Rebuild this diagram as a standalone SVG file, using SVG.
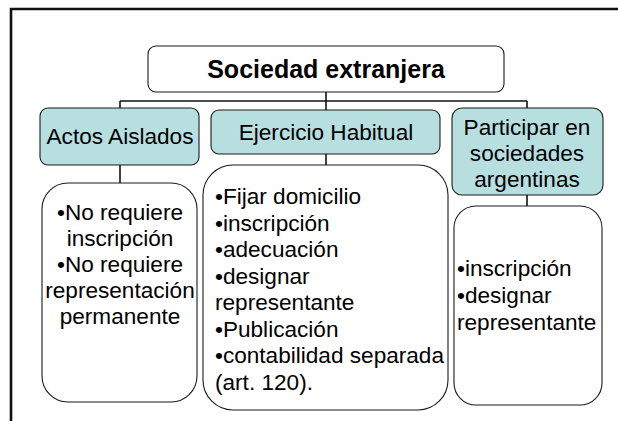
<svg xmlns="http://www.w3.org/2000/svg" width="618" height="421" viewBox="0 0 618 421">
<style>
.t{font-family:"Liberation Sans",Arial,sans-serif;font-size:22.6px;fill:#000}
.c{text-anchor:middle}
.b{font-weight:bold;font-size:25px}
.teal{fill:#b7dfe0;stroke:#1a1a1a;stroke-width:1.1}
.wht{fill:#fff;stroke:#1a1a1a;stroke-width:1.1}
.con line{stroke:#111;stroke-width:1.6}
</style>
<rect width="618" height="421" fill="#fff"/>
<g id="frame" fill="none" stroke="#111" stroke-width="2.6">
<path d="M618 9 H11 V421"/>
</g>
<g class="con" id="connectors">
<line x1="326" y1="92" x2="326" y2="110"/>
<line x1="120" y1="101" x2="527" y2="101"/>
<line x1="120" y1="101" x2="120" y2="108"/>
<line x1="527" y1="101" x2="527" y2="108"/>
<line x1="120" y1="165" x2="120" y2="183"/>
<line x1="326" y1="154" x2="326" y2="165"/>
<line x1="527" y1="195" x2="527" y2="206"/>
</g>
<g id="root">
<rect class="wht" x="148" y="46" width="356" height="46" rx="8"/>
<text class="t c b" x="326" y="78">Sociedad extranjera</text>
</g>
<g id="actos">
<rect class="teal" x="40" y="108" width="159" height="57" rx="8"/>
<text class="t c" x="120" y="144">Actos Aislados</text>
</g>
<g id="ejercicio">
<rect class="teal" x="211" y="110" width="229" height="44" rx="8"/>
<text class="t c" x="326" y="140">Ejercicio Habitual</text>
</g>
<g id="participar">
<rect class="teal" x="452" y="108" width="151" height="87" rx="10"/>
<text class="t c" x="527" y="135">Participar en</text>
<text class="t c" x="527" y="161">sociedades</text>
<text class="t c" x="527" y="187">argentinas</text>
</g>
<g id="actos-detalle">
<rect class="wht" x="42" y="183" width="155" height="219" rx="26"/>
<text class="t c" x="120" y="220">•No requiere</text>
<text class="t c" x="120" y="246">inscripción</text>
<text class="t c" x="120" y="272">•No requiere</text>
<text class="t c" x="120" y="298">representación</text>
<text class="t c" x="120" y="324">permanente</text>
</g>
<g id="ejercicio-detalle">
<rect class="wht" x="203" y="165" width="245" height="245" rx="30"/>
<text class="t" x="215" y="204">•Fijar domicilio</text>
<text class="t" x="215" y="231">•inscripción</text>
<text class="t" x="215" y="257">•adecuación</text>
<text class="t" x="215" y="284">•designar</text>
<text class="t" x="215" y="310">representante</text>
<text class="t" x="215" y="337">•Publicación</text>
<text class="t" x="215" y="363">•contabilidad separada</text>
<text class="t" x="215" y="390">(art. 120).</text>
</g>
<g id="participar-detalle">
<rect class="wht" x="454" y="206" width="148" height="199" rx="22"/>
<text class="t" x="457" y="276">•inscripción</text>
<text class="t" x="457" y="303">•designar</text>
<text class="t" x="457" y="330">representante</text>
</g>
</svg>
